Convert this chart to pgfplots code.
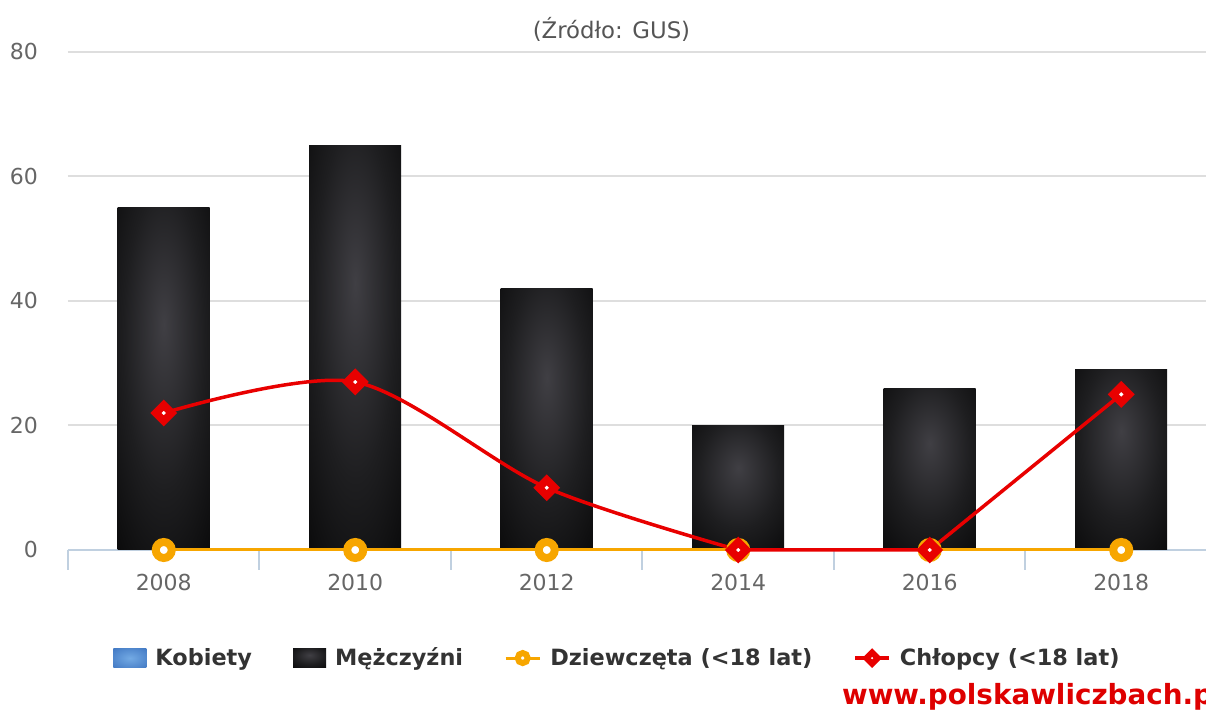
\documentclass[border=0pt]{standalone}
\usepackage{fontspec}
\setmainfont{DejaVu Sans}
\usepackage{pgfplots}
\pgfplotsset{compat=1.18}
\definecolor{gridc}{RGB}{222,222,222}
\definecolor{axisc}{RGB}{192,208,224}
\definecolor{tickc}{RGB}{102,102,102}
\definecolor{titlec}{RGB}{85,85,85}
\definecolor{legc}{RGB}{51,51,51}
\definecolor{orangec}{RGB}{247,166,0}
\definecolor{redc}{RGB}{232,0,0}
\definecolor{wmc}{RGB}{222,0,0}
\definecolor{mbin}{RGB}{64,63,68}
\definecolor{mbmid}{RGB}{30,30,32}
\definecolor{kbin}{RGB}{115,170,228}
\definecolor{kbout}{RGB}{50,105,185}
\pgfdeclareradialshading{barshade}{\pgfpoint{0bp}{8bp}}{color(0bp)=(mbin); color(22bp)=(mbmid); color(48bp)=(black); color(75bp)=(black)}
\pgfdeclareradialshading{kshade}{\pgfpoint{0bp}{0bp}}{color(0bp)=(kbin); color(48bp)=(kbout); color(75bp)=(kbout)}
\begin{document}
\begin{tikzpicture}
\begin{axis}[
  at={(34pt,80pt)}, anchor=south west,
  scale only axis, width=574.5pt, height=249pt,
  xmin=-0.5, xmax=5.5, ymin=0, ymax=80,
  clip=false,
  axis x line*=bottom, axis y line*=left,
  x axis line style={draw=axisc, line width=1pt, -},
  y axis line style={draw=none},
  ytick={0,20,40,60,80},
  ymajorgrids, grid style={draw=gridc, line width=1pt},
  ytick style={draw=none},
  xtick={0,1,2,3,4,5},
  xticklabels={2008,2010,2012,2014,2016,2018},
  minor xtick={-0.5,0.5,1.5,2.5,3.5,4.5,5.5},
  tick align=outside, major tick length=0pt, minor tick length=10pt,
  xtick style={draw=axisc, line width=1pt},
  every minor tick/.append style={draw=axisc, line width=1pt},
  /pgf/number format/assume math mode=true,
  tick label style={font=\fontsize{11}{13}\selectfont, text=tickc},
  yticklabel style={xshift=-11.5pt},
  xticklabel style={yshift=-8.5pt},
  title={(Źródło: GUS)},
  title style={at={(0.473,1.022)}, anchor=center, font=\fontsize{11.4}{13}\selectfont, text=titlec},
  legend columns=4,
  legend cell align=left,
  legend style={draw=none, fill=none, at={(0.034,-0.217)}, anchor=west,
    font=\bfseries\fontsize{11.2}{13}\selectfont, text=legc,
    /tikz/every odd column/.append style={column sep=2.5pt},
    /tikz/every even column/.append style={column sep=18.5pt}},
]
\addlegendimage{legend image code/.code={\shade[draw=none, shading=kshade] (0pt,-4.75pt) rectangle (16.5pt,4.75pt);}}
\addlegendentry{Kobiety}
\addlegendimage{legend image code/.code={\shade[draw=none, shading=barshade] (0pt,-4.75pt) rectangle (16.5pt,4.75pt);}}
\addlegendentry{Mężczyźni}
\addlegendimage{orangec, line width=1.5pt, mark=*, mark size=2.5pt, mark options={fill=white, draw=orangec, line width=3pt}}
\addlegendentry{Dziewczęta (<18 lat)}
\addlegendimage{redc, line width=1.75pt, mark=square*, mark size=2pt, mark options={rotate=45, fill=white, draw=redc, line width=3pt, line join=miter}}
\addlegendentry{Chłopcy (<18 lat)}

\pgfplotsset{mbar/.style={forget plot, ybar, bar shift=0pt, bar width=46pt, draw=none, shade, shading=barshade}}
\addplot[mbar] coordinates {(0,55)};
\addplot[mbar] coordinates {(1,65)};
\addplot[mbar] coordinates {(2,42)};
\addplot[mbar] coordinates {(3,20)};
\addplot[mbar] coordinates {(4,26)};
\addplot[mbar] coordinates {(5,29)};
\addplot[forget plot, orangec, line width=1.5pt, mark=*, mark size=4pt,
  mark options={fill=white, draw=orangec, line width=4pt}]
  coordinates {(0,0) (1,0) (2,0) (3,0) (4,0) (5,0)};
\addplot[forget plot, redc, line width=1.75pt, smooth, no marks]
  coordinates {(0,22) (1,27) (2,10) (3,0)};
\addplot[forget plot, redc, line width=1.75pt, no marks]
  coordinates {(3,0) (4,0) (5,25)};
\addplot[forget plot, only marks, mark=square*, mark size=2.8pt,
  mark options={rotate=45, fill=white, draw=redc, line width=3.9pt, line join=miter}]
  coordinates {(0,22) (1,27) (2,10) (3,0) (4,0) (5,25)};
\end{axis}
\node[anchor=base west, text=wmc, font=\bfseries\fontsize{13.9}{16}\selectfont] at (417.5pt,2.5pt) {www.polskawliczbach.pl};
\pgfresetboundingbox
\useasboundingbox (0,0) rectangle (603pt,355pt);
\end{tikzpicture}
\end{document}
